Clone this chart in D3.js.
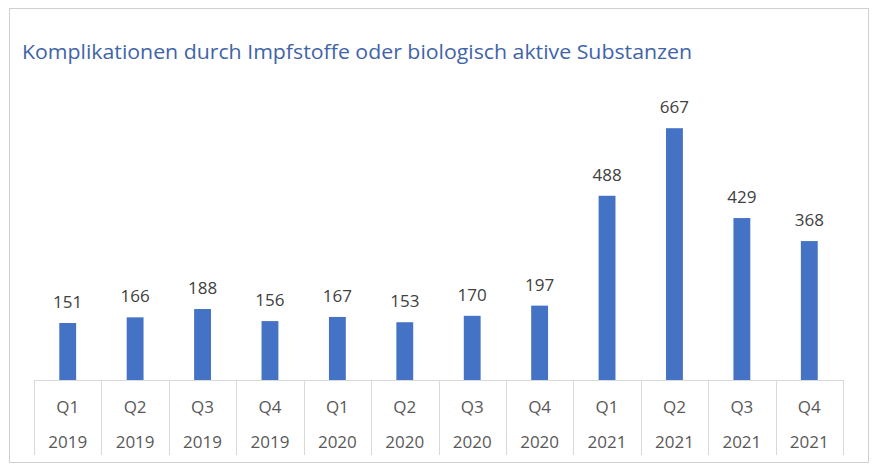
<!DOCTYPE html>
<html>
<head>
<meta charset="utf-8">
<script src="https://cdn.jsdelivr.net/npm/d3@7"></script>
<style>
  body { margin: 0; background: #fff; }
  text { font-family: "Open Sans", "Noto Sans", sans-serif; }
</style>
</head>
<body>
<script>
// Chart values
const quarters = ["Q1", "Q2", "Q3", "Q4", "Q1", "Q2", "Q3", "Q4", "Q1", "Q2", "Q3", "Q4"];
const years = ["2019", "2019", "2019", "2019", "2020", "2020", "2020", "2020", "2021", "2021", "2021", "2021"];
const values = [151, 166, 188, 156, 167, 153, 170, 197, 488, 667, 429, 368];
const title = "Komplikationen durch Impfstoffe oder biologisch aktive Substanzen";

const width = 878, height = 471;
const left = 34, right = 843, baseY = 380;

const svg = d3.select("body")
    .append("svg")
    .attr("width", width)
    .attr("height", height);

// Outer frame
svg.append("rect")
    .attr("x", 9.5).attr("y", 8.5)
    .attr("width", 859).attr("height", 454)
    .attr("fill", "#fff")
    .attr("stroke", "#d0d0d0");

// Title
svg.append("text")
    .attr("x", 22).attr("y", 59)
    .attr("font-size", 19.5)
    .attr("fill", "#3f64a8")
    .attr("textLength", 670)
    .attr("lengthAdjust", "spacingAndGlyphs")
    .text(title);

const idx = values.map((d, i) => i);

const x = d3.scaleBand()
    .domain(idx)
    .range([left, right])
    .paddingInner(0.75)
    .paddingOuter(0.375);

const xCell = d3.scaleBand()
    .domain(idx)
    .range([left, right]);

const y = d3.scaleLinear()
    .domain([0, 800])
    .range([baseY, 78]);

// Bars
svg.selectAll(".bar")
    .data(values)
    .enter()
    .append("rect")
    .attr("class", "bar")
    .attr("x", (d, i) => x(i))
    .attr("width", x.bandwidth())
    .attr("y", d => y(d))
    .attr("height", d => baseY - y(d))
    .attr("fill", "#4472c4");

// Value labels
svg.selectAll(".label")
    .data(values)
    .enter()
    .append("text")
    .attr("class", "label")
    .attr("x", (d, i) => x(i) + x.bandwidth() / 2)
    .attr("y", d => y(d) - 15)
    .attr("text-anchor", "middle")
    .attr("font-size", 17)
    .attr("fill", "#404040")
    .text(d => d);

// Category axis grid
const grid = svg.append("g").attr("stroke", "#d9d9d9").attr("stroke-width", 1);
grid.append("line")
    .attr("x1", left).attr("x2", right)
    .attr("y1", baseY + 0.5).attr("y2", baseY + 0.5);
grid.selectAll(".sep")
    .data(idx.concat([idx.length]))
    .enter()
    .append("line")
    .attr("class", "sep")
    .attr("x1", i => Math.round(left + i * xCell.step()) + 0.5)
    .attr("x2", i => Math.round(left + i * xCell.step()) + 0.5)
    .attr("y1", baseY)
    .attr("y2", 455);

svg.selectAll(".q")
    .data(quarters)
    .enter()
    .append("text")
    .attr("class", "q")
    .attr("x", (d, i) => xCell(i) + xCell.bandwidth() / 2)
    .attr("y", 413)
    .attr("text-anchor", "middle")
    .attr("font-size", 17)
    .attr("fill", "#595959")
    .text(d => d);

svg.selectAll(".yr")
    .data(years)
    .enter()
    .append("text")
    .attr("class", "yr")
    .attr("x", (d, i) => xCell(i) + xCell.bandwidth() / 2)
    .attr("y", 448)
    .attr("text-anchor", "middle")
    .attr("font-size", 17)
    .attr("fill", "#595959")
    .text(d => d);
</script>
</body>
</html>
